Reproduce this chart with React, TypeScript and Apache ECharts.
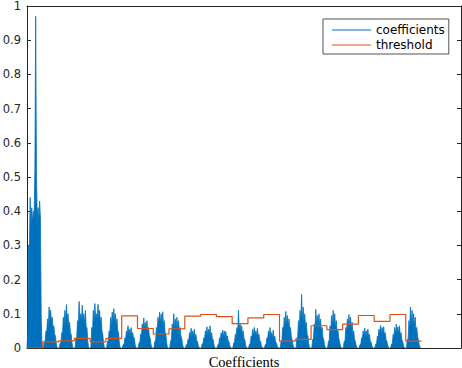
import React, { useEffect, useRef } from "react";
import * as echarts from "echarts";

// Coefficient magnitudes, one row per band (segment) of the decomposition
const coeffSegments: number[][] = [
  [0, 0.05, 0.3, 0.28, 0.44, 0.36, 0.41, 0.37, 0.4, 0.38, 0.52, 0.97, 0.5, 0.38, 0.41, 0.37, 0.43, 0.38, 0.1, 0],
  [0, 0.003, 0.02, 0.02, 0.05, 0.045, 0.085, 0.06, 0.12, 0.08, 0.11, 0.075, 0.09, 0.06, 0.065, 0.04, 0.035, 0.015, 0.002, 0],
  [0, 0.002, 0.015, 0.015, 0.045, 0.04, 0.09, 0.065, 0.11, 0.08, 0.127, 0.08, 0.1, 0.065, 0.075, 0.045, 0.04, 0.015, 0.002, 0],
  [0, 0.002, 0.03, 0.03, 0.08, 0.06, 0.136, 0.08, 0.1, 0.075, 0.125, 0.08, 0.1, 0.07, 0.11, 0.06, 0.06, 0.02, 0.002, 0],
  [0, 0.004, 0.06, 0.045, 0.11, 0.075, 0.13, 0.085, 0.1, 0.08, 0.128, 0.085, 0.11, 0.07, 0.09, 0.05, 0.04, 0.015, 0.002, 0],
  [0, 0.002, 0.02, 0.02, 0.05, 0.045, 0.09, 0.065, 0.105, 0.075, 0.115, 0.08, 0.1, 0.065, 0.085, 0.05, 0.045, 0.015, 0.002, 0],
  [0, 0.002, 0.01, 0.01, 0.03, 0.025, 0.05, 0.038, 0.065, 0.042, 0.055, 0.04, 0.06, 0.035, 0.045, 0.028, 0.03, 0.01, 0.002, 0],
  [0, 0.002, 0.015, 0.015, 0.04, 0.035, 0.07, 0.05, 0.088, 0.055, 0.075, 0.05, 0.08, 0.045, 0.06, 0.035, 0.03, 0.012, 0.002, 0],
  [0, 0.002, 0.02, 0.02, 0.06, 0.05, 0.09, 0.065, 0.105, 0.07, 0.1, 0.07, 0.106, 0.065, 0.08, 0.045, 0.04, 0.015, 0.002, 0],
  [0, 0.002, 0.02, 0.025, 0.07, 0.055, 0.1, 0.06, 0.085, 0.055, 0.09, 0.055, 0.08, 0.05, 0.06, 0.035, 0.03, 0.012, 0.002, 0],
  [0, 0.002, 0.01, 0.01, 0.025, 0.022, 0.045, 0.032, 0.058, 0.036, 0.05, 0.034, 0.055, 0.03, 0.04, 0.022, 0.02, 0.008, 0.002, 0],
  [0, 0.002, 0.012, 0.012, 0.03, 0.026, 0.05, 0.036, 0.062, 0.038, 0.055, 0.038, 0.065, 0.035, 0.045, 0.025, 0.025, 0.008, 0.002, 0],
  [0, 0.002, 0.01, 0.01, 0.03, 0.025, 0.045, 0.032, 0.052, 0.034, 0.05, 0.032, 0.048, 0.028, 0.035, 0.02, 0.018, 0.007, 0.002, 0],
  [0, 0.002, 0.015, 0.015, 0.04, 0.035, 0.06, 0.045, 0.11, 0.05, 0.072, 0.045, 0.065, 0.04, 0.05, 0.028, 0.025, 0.008, 0.002, 0],
  [0, 0.002, 0.012, 0.012, 0.035, 0.03, 0.055, 0.036, 0.06, 0.036, 0.05, 0.034, 0.058, 0.032, 0.04, 0.022, 0.02, 0.007, 0.002, 0],
  [0, 0.002, 0.01, 0.01, 0.03, 0.026, 0.05, 0.034, 0.06, 0.034, 0.045, 0.03, 0.052, 0.028, 0.035, 0.018, 0.015, 0.006, 0.002, 0],
  [0, 0.002, 0.02, 0.02, 0.06, 0.05, 0.09, 0.06, 0.107, 0.065, 0.095, 0.06, 0.085, 0.05, 0.06, 0.032, 0.025, 0.01, 0.002, 0],
  [0, 0.002, 0.03, 0.03, 0.08, 0.06, 0.11, 0.075, 0.157, 0.08, 0.12, 0.075, 0.1, 0.06, 0.075, 0.04, 0.035, 0.012, 0.002, 0],
  [0, 0.002, 0.025, 0.025, 0.07, 0.055, 0.113, 0.065, 0.095, 0.065, 0.1, 0.06, 0.085, 0.05, 0.06, 0.032, 0.025, 0.01, 0.002, 0],
  [0, 0.002, 0.02, 0.02, 0.065, 0.05, 0.095, 0.065, 0.11, 0.07, 0.1, 0.06, 0.08, 0.045, 0.055, 0.03, 0.02, 0.008, 0.002, 0],
  [0, 0.002, 0.02, 0.02, 0.06, 0.048, 0.085, 0.058, 0.098, 0.062, 0.09, 0.055, 0.075, 0.042, 0.05, 0.028, 0.02, 0.008, 0.002, 0],
  [0, 0.002, 0.01, 0.01, 0.03, 0.026, 0.05, 0.034, 0.058, 0.036, 0.05, 0.034, 0.055, 0.03, 0.04, 0.02, 0.018, 0.007, 0.002, 0],
  [0, 0.002, 0.012, 0.012, 0.035, 0.03, 0.055, 0.04, 0.066, 0.042, 0.06, 0.04, 0.062, 0.035, 0.045, 0.024, 0.02, 0.008, 0.002, 0],
  [0, 0.002, 0.012, 0.013, 0.04, 0.032, 0.06, 0.042, 0.07, 0.044, 0.062, 0.04, 0.065, 0.036, 0.045, 0.024, 0.02, 0.008, 0.002, 0],
  [0, 0.002, 0.025, 0.025, 0.08, 0.06, 0.12, 0.07, 0.11, 0.068, 0.1, 0.062, 0.09, 0.05, 0.06, 0.032, 0.025, 0.01, 0.002, 0],
];

// Threshold level per band
const thresholdLevels: number[] = [
  0, 0.018, 0.021, 0.028, 0.018, 0.028, 0.094, 0.057, 0.041, 0.056, 0.093, 0.098, 0.092,
  0.071, 0.088, 0.098, 0.02, 0.025, 0.065, 0.054, 0.07, 0.095, 0.078, 0.098, 0.02,
];

const seriesNames = ["coefficients", "threshold"];
const xAxisTitle = "Coefficients";
const xMax = 550;
const yTicks = { min: 0, max: 1, interval: 0.1 };

export default function App() {
  const ref = useRef<HTMLDivElement>(null);
  useEffect(() => {
    if (!ref.current) return;
    const chart = echarts.init(ref.current, null, { renderer: "svg" });
    const segLen = coeffSegments[0].length;
    const coeffData = coeffSegments.flat().map((v, i) => [i, v]);
    const thrData = thresholdLevels.flatMap((t, k) => [
      [k * segLen, t],
      [(k + 1) * segLen, t],
    ]);
    const axisColor = "#262626";
    chart.setOption({
      animation: false,
      backgroundColor: "#fff",
      grid: {
        left: 27,
        top: 6,
        width: 434,
        height: 342,
        containLabel: false,
        outerBoundsMode: "none",
      },
      xAxis: [
        {
          type: "value",
          min: 0,
          max: xMax,
          position: "bottom",
          name: xAxisTitle,
          nameLocation: "middle",
          nameGap: 6,
          nameTextStyle: {
            fontFamily: "Liberation Serif",
            fontSize: 14.5,
            color: "#000",
            verticalAlign: "top",
          },
          axisLine: { show: true, onZero: false, lineStyle: { color: axisColor, width: 1 } },
          axisTick: { show: false },
          axisLabel: { show: false },
          splitLine: { show: false },
        },
        {
          type: "value",
          min: 0,
          max: xMax,
          position: "top",
          axisLine: { show: true, onZero: false, lineStyle: { color: axisColor, width: 1 } },
          axisTick: { show: false },
          axisLabel: { show: false },
          splitLine: { show: false },
        },
      ],
      yAxis: [
        {
          type: "value",
          ...yTicks,
          position: "left",
          axisLine: { show: true, onZero: false, lineStyle: { color: axisColor, width: 1 } },
          axisTick: { show: true, inside: true, length: 4, lineStyle: { color: axisColor } },
          axisLabel: {
            margin: 6,
            color: axisColor,
            fontFamily: "DejaVu Sans",
            fontSize: 11.5,
          },
          splitLine: { show: false },
        },
        {
          type: "value",
          ...yTicks,
          position: "right",
          axisLine: { show: true, onZero: false, lineStyle: { color: axisColor, width: 1 } },
          axisTick: { show: true, inside: true, length: 4, lineStyle: { color: axisColor } },
          axisLabel: { show: false },
          splitLine: { show: false },
        },
      ],
      legend: {
        data: seriesNames,
        orient: "vertical",
        left: 323,
        top: 19,
        padding: [4.5, 4, 2.5, 9],
        itemGap: 2,
        itemWidth: 39,
        itemHeight: 1.2,
        icon: "rect",
        borderColor: axisColor,
        borderWidth: 0.8,
        backgroundColor: "#fff",
        textStyle: {
          fontFamily: "DejaVu Sans",
          fontSize: 12,
          color: "#000",
          lineHeight: 13,
          padding: [0, 0, 0, 0],
        },
      },
      series: [
        {
          name: seriesNames[0],
          type: "line",
          data: coeffData,
          showSymbol: false,
          symbol: "none",
          color: "#0072BD",
          lineStyle: { color: "#0072BD", width: 0.8 },
          areaStyle: { color: "#0072BD", opacity: 1, origin: "start" },
          xAxisIndex: 0,
          yAxisIndex: 0,
        },
        {
          name: seriesNames[1],
          type: "line",
          data: thrData,
          showSymbol: false,
          symbol: "none",
          color: "#D95319",
          lineStyle: { color: "#D95319", width: 1.2 },
          xAxisIndex: 0,
          yAxisIndex: 0,
        },
      ],
    });
    return () => chart.dispose();
  }, []);
  return (
    <div
      ref={ref}
      style={{ position: "absolute", left: 0, top: 0, width: 462, height: 368 }}
    />
  );
}
